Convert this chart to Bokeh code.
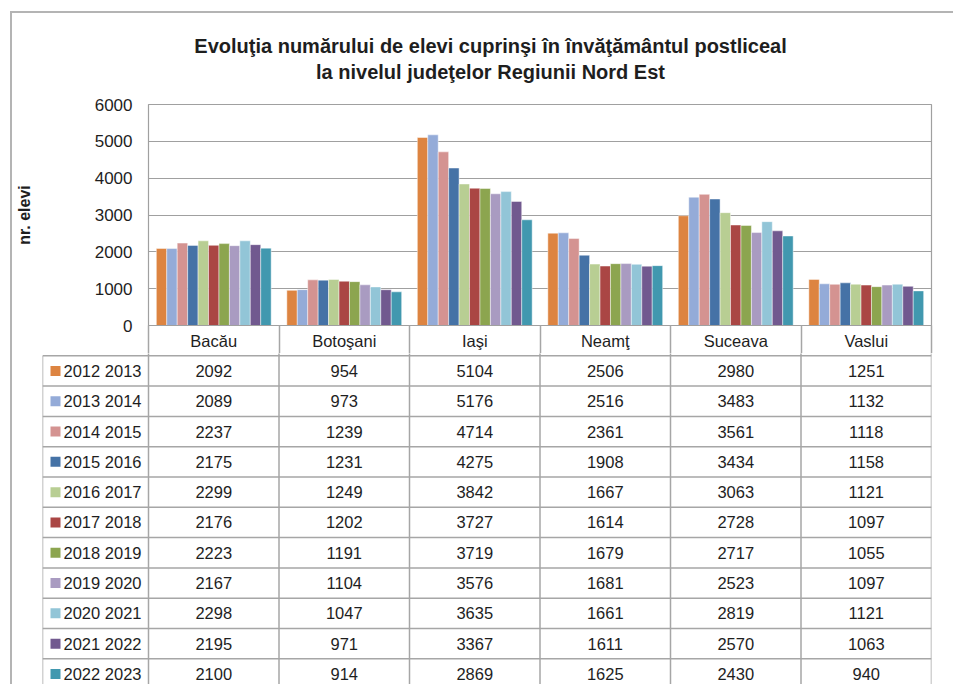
from bokeh.plotting import figure
from bokeh.models import Range1d, ColumnDataSource, FixedTicker
from bokeh.layouts import column
from bokeh.transform import dodge
from bokeh.embed import file_html
from bokeh.resources import INLINE
from bokeh.core.properties import value

# ---------------- data ----------------
counties = ["Bacău", "Botoşani", "Iaşi", "Neamţ", "Suceava", "Vaslui"]
years = ["2012 2013", "2013 2014", "2014 2015", "2015 2016", "2016 2017", "2017 2018",
         "2018 2019", "2019 2020", "2020 2021", "2021 2022", "2022 2023"]
y2012_2013 = [2092, 954, 5104, 2506, 2980, 1251]
y2013_2014 = [2089, 973, 5176, 2516, 3483, 1132]
y2014_2015 = [2237, 1239, 4714, 2361, 3561, 1118]
y2015_2016 = [2175, 1231, 4275, 1908, 3434, 1158]
y2016_2017 = [2299, 1249, 3842, 1667, 3063, 1121]
y2017_2018 = [2176, 1202, 3727, 1614, 2728, 1097]
y2018_2019 = [2223, 1191, 3719, 1679, 2717, 1055]
y2019_2020 = [2167, 1104, 3576, 1681, 2523, 1097]
y2020_2021 = [2298, 1047, 3635, 1661, 2819, 1121]
y2021_2022 = [2195, 971, 3367, 1611, 2570, 1063]
y2022_2023 = [2100, 914, 2869, 1625, 2430, 940]
y_ticks = [0, 1000, 2000, 3000, 4000, 5000, 6000]

series = [y2012_2013, y2013_2014, y2014_2015, y2015_2016, y2016_2017, y2017_2018,
          y2018_2019, y2019_2020, y2020_2021, y2021_2022, y2022_2023]
colors = ["#DD8441", "#94ABD8", "#D49391", "#4572A6", "#B8CE93", "#AA4644",
          "#8CA54F", "#A99BC1", "#92C5D7", "#71598F", "#4198AF"]

title1 = "Evoluţia numărului de elevi cuprinşi în învăţământul postliceal"
title2 = "la nivelul judeţelor Regiunii Nord Est"

SANS = value("Liberation Sans")
GRID = "#A0A0A0"
TBL = "#A6A6A6"
TXT = "#1E1E1E"
W = 941
nc = len(counties)
n = len(series)


def no_align(fig):
    try:
        fig.frame_align = False
    except Exception:
        pass


# ---------------- title ----------------
tt = figure(x_range=Range1d(0, 1), y_range=Range1d(81, 0), width=W, height=81,
            output_backend="svg", toolbar_location=None, x_axis_location=None,
            y_axis_location=None, min_border_left=15, min_border_right=0,
            min_border_top=0, min_border_bottom=0)
tt.grid.visible = False
tt.outline_line_color = None
tt.text(x=[0.5, 0.5], y=[32, 58], text=[title1, title2], text_font=SANS,
        text_font_size="20px", text_font_style="bold", text_align="center",
        text_baseline="middle", text_color=TXT)
no_align(tt)

# ---------------- chart ----------------
centers = [i + 0.5 for i in range(nc)]
src = ColumnDataSource(dict(xc=centers, **{f"s{j}": s for j, s in enumerate(series)}))

p = figure(x_range=Range1d(0, nc), y_range=Range1d(0, 6000),
           width=W, height=259, output_backend="svg", toolbar_location=None,
           min_border_left=136, min_border_right=22,
           min_border_top=10, min_border_bottom=28)
no_align(p)
p.outline_line_color = GRID
p.outline_line_width = 1.2
p.xgrid.visible = False
p.ygrid.grid_line_color = GRID
p.ygrid.grid_line_width = 1.2
p.yaxis.ticker = FixedTicker(ticks=y_ticks)
p.yaxis.axis_line_color = None
p.yaxis.major_tick_line_color = None
p.yaxis.minor_tick_line_color = None
p.yaxis.major_tick_out = 0
p.yaxis.major_label_standoff = 16
p.yaxis.major_label_text_font = "Liberation Sans"
p.yaxis.major_label_text_font_size = "17px"
p.yaxis.major_label_text_color = TXT
p.yaxis.axis_label = "nr. elevi"
p.yaxis.axis_label_text_font = "Liberation Sans"
p.yaxis.axis_label_text_font_size = "16px"
p.yaxis.axis_label_text_font_style = "bold"
p.yaxis.axis_label_text_color = TXT
p.yaxis.axis_label_standoff = 59

# x axis = header row of the data table: category names + cell separators
xa = p.xaxis[0]
xa.ticker = FixedTicker(ticks=centers, minor_ticks=list(range(nc + 1)))
xa.major_label_overrides = {c: name for c, name in zip(centers, counties)}
xa.axis_line_color = GRID
xa.axis_line_width = 1.2
xa.major_tick_line_color = None
xa.major_tick_out = 0
xa.major_tick_in = 0
xa.minor_tick_out = 30
xa.minor_tick_in = 0
xa.minor_tick_line_color = TBL
xa.minor_tick_line_width = 1.5
xa.major_label_standoff = -24
xa.major_label_text_font = "Liberation Sans"
xa.major_label_text_font_size = "16.5px"
xa.major_label_text_color = TXT

bw = 0.08
for j in range(n):
    off = (j - (n - 1) / 2) * bw
    p.vbar(x=dodge("xc", off), top=f"s{j}", width=bw, source=src,
           fill_color=colors[j], line_color="white", line_alpha=0.45, line_width=1)

# ---------------- data table body ----------------
row_h = 30.3
tbl_h = 331
top_pad = 2.3 / row_h
L = 106 / 130.5
t = figure(x_range=Range1d(-L, nc), y_range=Range1d(tbl_h / row_h - top_pad, -top_pad),
           width=W, height=tbl_h, output_backend="svg", toolbar_location=None,
           x_axis_location=None, y_axis_location=None, min_border_left=30,
           min_border_right=22, min_border_top=0, min_border_bottom=0)
no_align(t)
t.grid.visible = False
t.outline_line_color = None

bottom = n + 1
hy = list(range(n))
t.segment(x0=[-L] * n, y0=hy, x1=[nc] * n, y1=hy, line_color=TBL, line_width=1.5)
vx = [-L] + list(range(nc + 1))
t.segment(x0=vx, y0=[0] + [-1] * (nc + 1), x1=vx, y1=[bottom] * len(vx),
          line_color=TBL, line_width=1.5)

vx_, vy_, vt_ = [], [], []
for j, s in enumerate(series):
    for i, v in enumerate(s):
        vx_.append(i + 0.5)
        vy_.append(j + 0.5)
        vt_.append(str(v))
t.text(x=vx_, y=vy_, text=vt_, text_font=SANS, text_font_size="16.5px",
       text_align="center", text_baseline="middle", text_color=TXT)

ly = [j + 0.5 for j in range(n)]
t.scatter(x=[-L + 13 / 130.5] * n, y=ly, marker="square", size=10, fill_color=colors,
          line_color=None)
t.text(x=[-L + 21 / 130.5] * n, y=ly, text=years, text_font=SANS, text_font_size="16.5px",
       text_align="left", text_baseline="middle", text_color=TXT)

layout = column(tt, p, t, margin=(11, 0, 0, 10),
                styles={"border-left": "2px solid #B4B4B4", "border-top": "2px solid #B4B4B4"})

open("out.html", "w").write(file_html(layout, INLINE))
